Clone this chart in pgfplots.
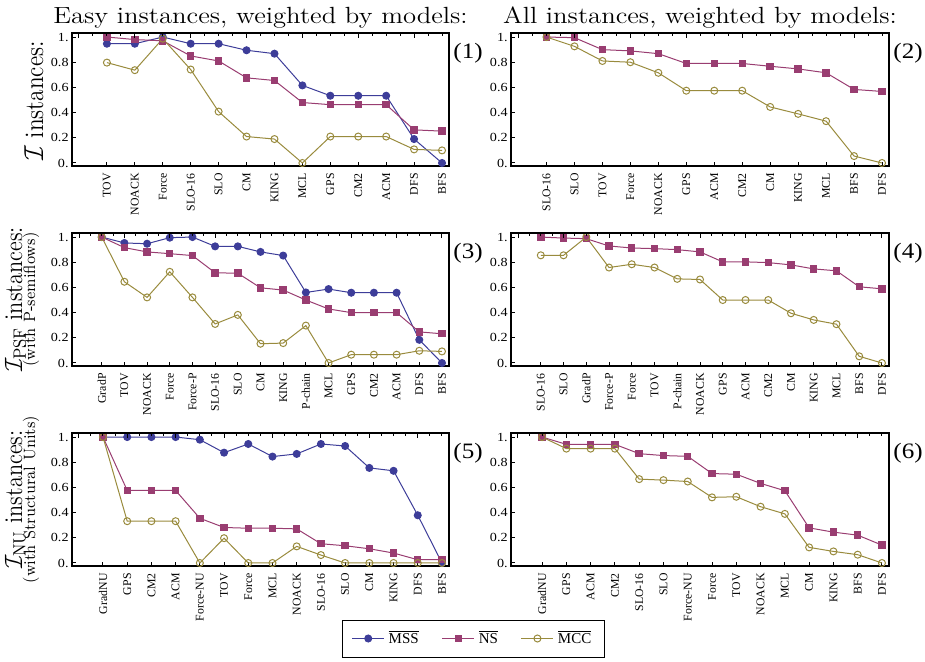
\documentclass[border=0pt]{standalone}
\usepackage{fontspec}
\newfontfamily\tnr{Liberation Serif}
\usepackage{graphicx}
\usepackage{pgfplots}
\pgfplotsset{compat=1.18}
\definecolor{cmss}{rgb}{0.24,0.24,0.6}
\definecolor{cns}{rgb}{0.6,0.24,0.4428}
\definecolor{cmcc}{rgb}{0.6,0.547,0.24}
\newcommand\ys[1]{\scalebox{1.14}[1]{#1}}
\pgfplotsset{
  panel/.style={scale only axis, height=66.5pt, ymin=-0.024, ymax=1.032, clip=false,
    anchor=north west,
    ytick={0,0.2,0.4,0.6,0.8,1},
    yticklabels={\ys{0.},\ys{0.2},\ys{0.4},\ys{0.6},\ys{0.8},\ys{1.}},
    xtick pos=bottom, ytick pos=left, tick align=inside, major tick length=2pt,
    axis line style={line width=0.6pt},
    every tick/.style={black, line width=0.5pt},
    xticklabel style={font=\tnr\fontsize{5.9}{6}\selectfont, rotate=90, anchor=east, inner xsep=3.5pt, inner ysep=0pt},
    yticklabel style={font=\tnr\fontsize{6.2}{7}\selectfont, inner xsep=1.5pt},
  },
  toptk/.style={scale only axis, height=66.5pt, anchor=north west, ymin=0, ymax=1,
    axis x line*=top, hide y axis, xtick={-1,1,...,15}, xticklabels={},
    minor x tick num=3, tick align=inside, major tick length=2.5pt, minor tick length=1.5pt,
    axis line style={line width=0.6pt}, every tick/.style={black, line width=0.5pt}},
  mss/.style={color=cmss, line width=0.5pt, mark=*, mark size=1.75pt, mark options={fill=cmss, solid}},
  ns/.style={color=cns, line width=0.5pt, mark=square*, mark size=1.6pt, mark options={fill=cns, solid}},
  mcc/.style={color=cmcc, line width=0.5pt, mark=o, mark size=1.75pt, mark options={solid}},
}
\begin{document}
\begin{tikzpicture}
\useasboundingbox (0,0) rectangle (462.5pt,-330.5pt);
% ---------- Panel 1
\begin{axis}[panel, at={(36pt,-16.5pt)}, width=188.5pt, xmin=-1.25, xmax=12.25,
  xtick={0,...,12}, xticklabels={TOV,NOACK,Force,SLO-16,SLO,CM,KING,MCL,GPS,CM2,ACM,DFS,BFS}]
\addplot[mss] coordinates {(0,0.947)(1,0.947)(2,1.0)(3,0.947)(4,0.947)(5,0.895)(6,0.868)(7,0.616)(8,0.534)(9,0.534)(10,0.534)(11,0.19)(12,0)};
\addplot[ns] coordinates {(0,1.0)(1,0.98)(2,0.97)(3,0.85)(4,0.81)(5,0.676)(6,0.655)(7,0.48)(8,0.463)(9,0.463)(10,0.463)(11,0.263)(12,0.253)};
\addplot[mcc] coordinates {(0,0.797)(1,0.737)(2,0.987)(3,0.742)(4,0.408)(5,0.21)(6,0.19)(7,0)(8,0.21)(9,0.21)(10,0.21)(11,0.108)(12,0.1)};
\end{axis}
\begin{axis}[toptk, at={(36pt,-16.5pt)}, width=188.5pt, xmin=-1.25, xmax=12.25]
\end{axis}
% ---------- Panel 2
\begin{axis}[panel, at={(255.5pt,-16.5pt)}, width=189pt, xmin=-1.27, xmax=12.25,
  xtick={0,...,12}, xticklabels={SLO-16,SLO,TOV,Force,NOACK,GPS,ACM,CM2,CM,KING,MCL,BFS,DFS}]
\addplot[ns] coordinates {(0,1.0)(1,0.995)(2,0.9)(3,0.89)(4,0.868)(5,0.79)(6,0.79)(7,0.79)(8,0.768)(9,0.747)(10,0.716)(11,0.584)(12,0.568)};
\addplot[mcc] coordinates {(0,1.0)(1,0.926)(2,0.81)(3,0.8)(4,0.716)(5,0.574)(6,0.574)(7,0.574)(8,0.445)(9,0.39)(10,0.332)(11,0.055)(12,0)};
\end{axis}
\begin{axis}[toptk, at={(255.5pt,-16.5pt)}, width=189pt, xmin=-1.27, xmax=12.25]
\end{axis}
% ---------- Panel 3
\begin{axis}[panel, at={(36pt,-116.5pt)}, width=188.5pt, xmin=-1.31, xmax=15.31,
  xtick={0,...,15}, xticklabels={GradP,TOV,NOACK,Force,Force-P,SLO-16,SLO,CM,KING,P-chain,MCL,GPS,CM2,ACM,DFS,BFS}]
\addplot[mss] coordinates {(0,1.0)(1,0.953)(2,0.947)(3,0.995)(4,1.0)(5,0.926)(6,0.926)(7,0.882)(8,0.853)(9,0.56)(10,0.587)(11,0.558)(12,0.558)(13,0.558)(14,0.184)(15,0)};
\addplot[ns] coordinates {(0,1.0)(1,0.916)(2,0.882)(3,0.868)(4,0.853)(5,0.716)(6,0.713)(7,0.597)(8,0.579)(9,0.5)(10,0.429)(11,0.4)(12,0.4)(13,0.4)(14,0.247)(15,0.232)};
\addplot[mcc] coordinates {(0,1.0)(1,0.645)(2,0.521)(3,0.724)(4,0.521)(5,0.31)(6,0.382)(7,0.153)(8,0.158)(9,0.297)(10,0)(11,0.066)(12,0.066)(13,0.066)(14,0.097)(15,0.092)};
\end{axis}
\begin{axis}[toptk, at={(36pt,-116.5pt)}, width=188.5pt, xmin=-1.31, xmax=15.31]
\end{axis}
% ---------- Panel 4
\begin{axis}[panel, at={(255.5pt,-116.5pt)}, width=189pt, xmin=-1.31, xmax=15.31,
  xtick={0,...,15}, xticklabels={SLO-16,SLO,GradP,Force-P,Force,TOV,P-chain,NOACK,GPS,ACM,CM2,CM,KING,MCL,BFS,DFS}]
\addplot[ns] coordinates {(0,1.0)(1,0.992)(2,0.987)(3,0.929)(4,0.913)(5,0.908)(6,0.9)(7,0.882)(8,0.803)(9,0.803)(10,0.797)(11,0.779)(12,0.747)(13,0.732)(14,0.605)(15,0.589)};
\addplot[mcc] coordinates {(0,0.855)(1,0.855)(2,1.0)(3,0.758)(4,0.784)(5,0.758)(6,0.668)(7,0.663)(8,0.5)(9,0.5)(10,0.5)(11,0.395)(12,0.342)(13,0.308)(14,0.053)(15,0)};
\end{axis}
\begin{axis}[toptk, at={(255.5pt,-116.5pt)}, width=189pt, xmin=-1.31, xmax=15.31]
\end{axis}
% ---------- Panel 5
\begin{axis}[panel, at={(36pt,-216.5pt)}, width=188.5pt, xmin=-1.28, xmax=14.29,
  xtick={0,...,14}, xticklabels={GradNU,GPS,CM2,ACM,Force-NU,TOV,Force,MCL,NOACK,SLO-16,SLO,CM,KING,DFS,BFS},
  legend style={at={(axis description cs:1.065,-0.545)}, anchor=center, draw=black,
    font=\tnr\fontsize{7.5}{8}\selectfont, legend columns=3, inner xsep=4.5pt, inner ysep=3pt,
    /tikz/every even column/.append style={column sep=9.5pt}},
  legend image code/.code={\draw[mark repeat=2,mark phase=2] plot coordinates {(0pt,0pt)(8pt,0pt)(16pt,0pt)};}]
\addplot[mss] coordinates {(0,1)(1,1)(2,1)(3,1)(4,0.979)(5,0.876)(6,0.945)(7,0.845)(8,0.866)(9,0.945)(10,0.929)(11,0.755)(12,0.732)(13,0.379)(14,0)};
\addplot[ns] coordinates {(0,1)(1,0.576)(2,0.576)(3,0.576)(4,0.355)(5,0.282)(6,0.276)(7,0.276)(8,0.271)(9,0.153)(10,0.137)(11,0.113)(12,0.079)(13,0.026)(14,0.026)};
\addplot[mcc] coordinates {(0,1)(1,0.332)(2,0.332)(3,0.332)(4,0)(5,0.197)(6,0)(7,0)(8,0.132)(9,0.063)(10,0)(11,0)(12,0)(13,0)(14,0)};
\legend{$\overline{\mbox{MSS}}$,$\overline{\mbox{NS}}$,$\overline{\mbox{MCC}}$}
\end{axis}
\begin{axis}[toptk, at={(36pt,-216.5pt)}, width=188.5pt, xmin=-1.28, xmax=14.29]
\end{axis}
% ---------- Panel 6
\begin{axis}[panel, at={(255.5pt,-216.5pt)}, width=189pt, xmin=-1.28, xmax=14.29,
  xtick={0,...,14}, xticklabels={GradNU,GPS,ACM,CM2,SLO-16,SLO,Force-NU,Force,TOV,NOACK,MCL,CM,KING,BFS,DFS}]
\addplot[ns] coordinates {(0,1)(1,0.942)(2,0.942)(3,0.942)(4,0.868)(5,0.853)(6,0.847)(7,0.71)(8,0.705)(9,0.632)(10,0.574)(11,0.279)(12,0.245)(13,0.221)(14,0.142)};
\addplot[mcc] coordinates {(0,1)(1,0.908)(2,0.908)(3,0.908)(4,0.666)(5,0.658)(6,0.647)(7,0.521)(8,0.526)(9,0.447)(10,0.39)(11,0.124)(12,0.092)(13,0.066)(14,0)};
\end{axis}
\begin{axis}[toptk, at={(255.5pt,-216.5pt)}, width=189pt, xmin=-1.28, xmax=14.29]
\end{axis}
% ---------- Titles
\node[anchor=base, inner sep=0] at (130.25pt,-11.5pt) {\scalebox{1.14}[1]{\fontsize{11.7}{14}\selectfont Easy instances, weighted by models:}};
\node[anchor=base, inner sep=0] at (350pt,-11.5pt) {\scalebox{1.14}[1]{\fontsize{11.7}{14}\selectfont All instances, weighted by models:}};
% ---------- Row labels
\node[rotate=90, anchor=base, inner sep=0] at (21.5pt,-50.5pt) {\scalebox{1}[1.14]{\fontsize{11.7}{12}\selectfont $\mathcal{I}$ instances:}};
\node[rotate=90, anchor=base, inner sep=0] at (11pt,-149.75pt) {\scalebox{1}[1.14]{\fontsize{11.2}{12}\selectfont $\mathcal{I}_{\mathrm{PSF}}$ instances:}};
\node[rotate=90, anchor=base, inner sep=0] at (17.5pt,-149.75pt) {\scalebox{1}[1.14]{\fontsize{7.2}{8}\selectfont (with P-semiflows)}};
\node[rotate=90, anchor=base, inner sep=0] at (11pt,-249.75pt) {\scalebox{1}[1.14]{\fontsize{11.2}{12}\selectfont $\mathcal{I}_{\mathrm{NU}}$ instances:}};
\node[rotate=90, anchor=base, inner sep=0] at (17.5pt,-249.75pt) {\scalebox{1}[1.14]{\fontsize{7.2}{8}\selectfont (with Structural Units)}};
% ---------- Panel numbers
\node[anchor=base west, inner sep=0] at (226.5pt,-29pt) {\scalebox{1.14}[1]{\tnr\fontsize{11}{12}\selectfont (1)}};
\node[anchor=base west, inner sep=0] at (446.5pt,-29pt) {\scalebox{1.14}[1]{\tnr\fontsize{11}{12}\selectfont (2)}};
\node[anchor=base west, inner sep=0] at (226.5pt,-129pt) {\scalebox{1.14}[1]{\tnr\fontsize{11}{12}\selectfont (3)}};
\node[anchor=base west, inner sep=0] at (446.5pt,-129pt) {\scalebox{1.14}[1]{\tnr\fontsize{11}{12}\selectfont (4)}};
\node[anchor=base west, inner sep=0] at (226.5pt,-229pt) {\scalebox{1.14}[1]{\tnr\fontsize{11}{12}\selectfont (5)}};
\node[anchor=base west, inner sep=0] at (446.5pt,-229pt) {\scalebox{1.14}[1]{\tnr\fontsize{11}{12}\selectfont (6)}};
\end{tikzpicture}
\end{document}
